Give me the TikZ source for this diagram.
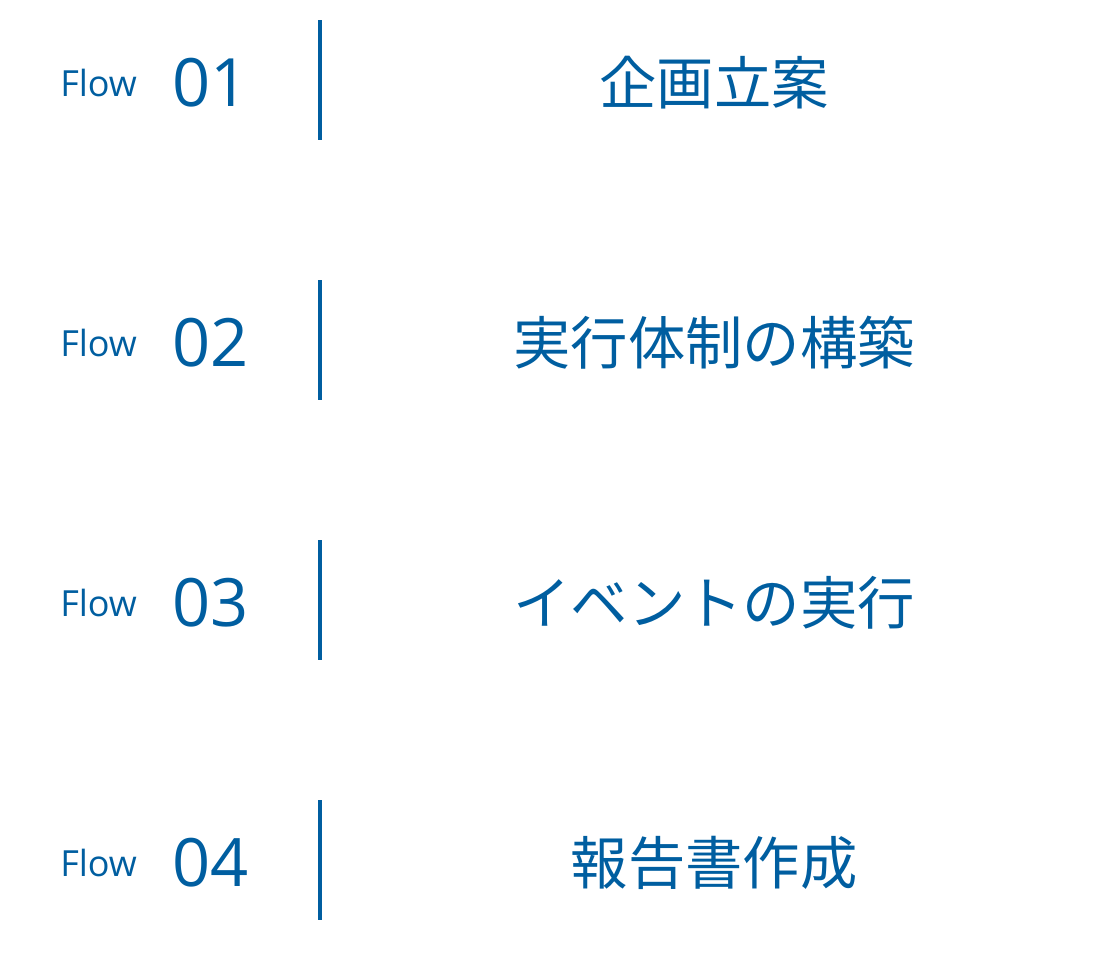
\documentclass[tikz,border=0pt]{standalone}
\usepackage{fontspec}
\setmainfont{Open Sans}
\newfontfamily\cjk{Noto Sans CJK JP}
\definecolor{fb}{HTML}{005EA0}
\begin{document}
\begin{tikzpicture}[x=0.75pt,y=-0.75pt,
  flowlbl/.style={text=fb,font=\fontsize{27}{30}\selectfont,anchor=west,inner sep=0},
  numlbl/.style={text=fb,font=\fontsize{50}{56}\selectfont,anchor=west,inner sep=0},
  titlelbl/.style={text=fb,font=\cjk\fontsize{43}{48}\selectfont,inner sep=0},
  sep/.style={draw=fb,line width=3pt}]
\useasboundingbox (0,0) rectangle (1120,957);
\foreach \i/\t in {1/企画立案,2/実行体制の構築,3/イベントの実行,4/報告書作成}{
  \pgfmathsetmacro\yy{83+260*(\i-1)}
  \node[flowlbl] (f\i) at (60,\yy) {Flow};
  \node[numlbl] (n\i) at (172,\yy) {0\i};
  \coordinate (a\i) at (320,\yy-63);
  \coordinate (b\i) at (320,\yy+57);
  \draw[sep] (a\i) -- (b\i);
  \node[titlelbl] (t\i) at (714,\yy) {\t};
}
\end{tikzpicture}
\end{document}
